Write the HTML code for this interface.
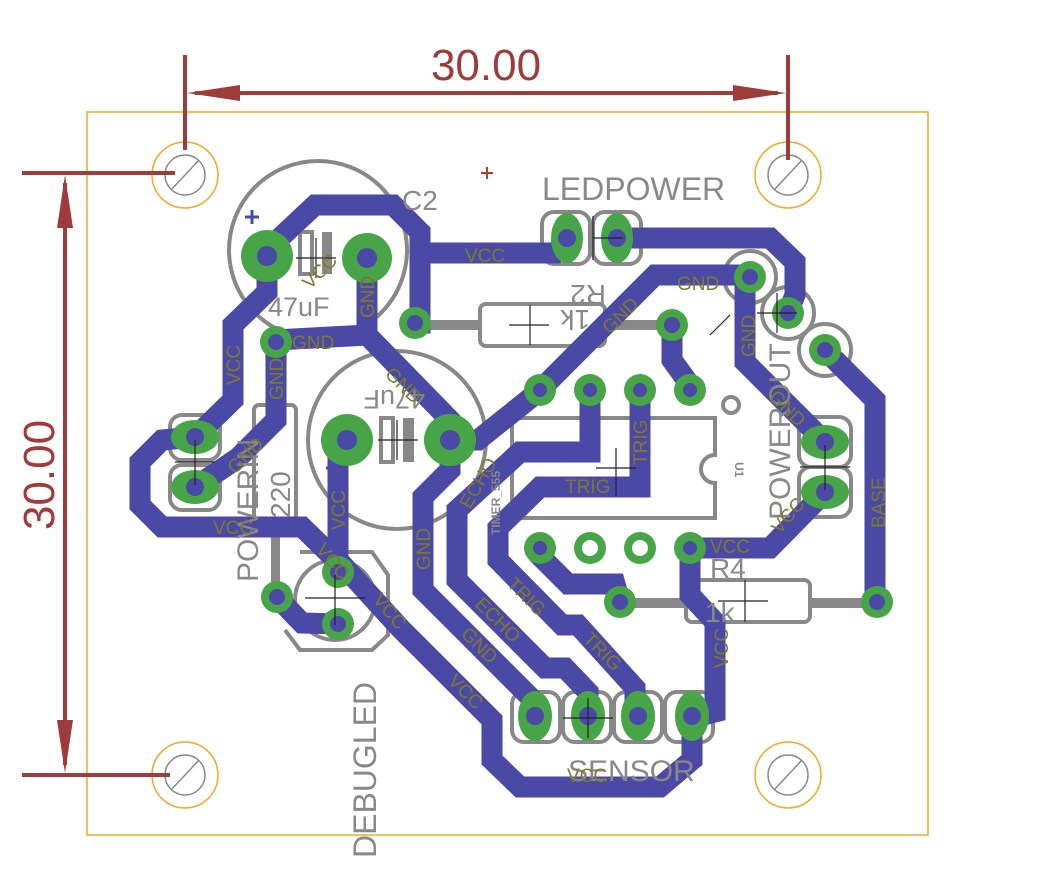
<!DOCTYPE html>
<html><head><meta charset="utf-8"><style>
html,body{margin:0;padding:0;background:#fff;}
svg{display:block;}
.t{fill:none;stroke:#4a4aa6;stroke-width:21;stroke-linejoin:miter;stroke-linecap:square;}
.g{fill:#888;font-family:"Liberation Sans",sans-serif;}
.l{fill:#7d7a2c;font-family:"Liberation Sans",sans-serif;font-size:19px;}
.o{fill:none;stroke:#888;stroke-width:4;}
.pad{fill:#47a447;}
.h{fill:#4a4aa6;}
</style></head><body>
<svg width="1048" height="876" viewBox="0 0 1048 876" xmlns="http://www.w3.org/2000/svg">
<rect x="87" y="112" width="841" height="723" fill="none" stroke="#f5a623" stroke-width="1.5"/>
<g fill="none">
<circle cx="185" cy="175" r="33" stroke="#f5a623" stroke-width="1.5"/><circle cx="185" cy="175" r="20" stroke="#888" stroke-width="1.5"/><line x1="171" y1="190" x2="199" y2="160" stroke="#888" stroke-width="1.5"/>
<circle cx="788" cy="175" r="33" stroke="#f5a623" stroke-width="1.5"/><circle cx="788" cy="175" r="20" stroke="#888" stroke-width="1.5"/><line x1="774" y1="190" x2="802" y2="160" stroke="#888" stroke-width="1.5"/>
<circle cx="185" cy="775" r="33" stroke="#f5a623" stroke-width="1.5"/><circle cx="185" cy="775" r="20" stroke="#888" stroke-width="1.5"/><line x1="171" y1="790" x2="199" y2="760" stroke="#888" stroke-width="1.5"/>
<circle cx="788" cy="775" r="33" stroke="#f5a623" stroke-width="1.5"/><circle cx="788" cy="775" r="20" stroke="#888" stroke-width="1.5"/><line x1="774" y1="790" x2="802" y2="760" stroke="#888" stroke-width="1.5"/>
</g>
<g stroke="#9e3b3b" stroke-width="4" fill="#9e3b3b">
<line x1="185" y1="55" x2="185" y2="150"/><line x1="788" y1="55" x2="788" y2="160"/>
<line x1="195" y1="93" x2="778" y2="93"/>
<polygon points="187,93 240,85 240,101" stroke="none"/><polygon points="786,93 733,85 733,101" stroke="none"/>
<line x1="22" y1="173" x2="175" y2="173"/><line x1="22" y1="775" x2="170" y2="775"/>
<line x1="65" y1="183" x2="65" y2="765"/>
<polygon points="65,175 57,228 73,228" stroke="none"/><polygon points="65,773 57,720 73,720" stroke="none"/>
</g>
<text x="486" y="80" fill="#9e3b3b" font-family="Liberation Sans,sans-serif" font-size="44" text-anchor="middle">30.00</text>
<text transform="translate(54,475) rotate(-90)" fill="#9e3b3b" font-family="Liberation Sans,sans-serif" font-size="44" text-anchor="middle">30.00</text>
<g stroke="#c0392b" stroke-width="2"><line x1="481" y1="173" x2="493" y2="173"/><line x1="487" y1="167" x2="487" y2="179"/></g>

<circle cx="318" cy="250" r="89" class="o"/>
<circle cx="397" cy="440" r="89" class="o"/>
<rect x="300" y="232" width="12" height="42" class="o" stroke-width="3"/><rect x="322" y="232" width="10" height="42" fill="#888"/>
<rect x="381" y="418" width="12" height="44" class="o" stroke-width="3"/><rect x="403" y="418" width="11" height="44" fill="#888"/>
<path d="M245 217h14M252 210v14M326 468h14M333 461v14" stroke="#4a4aa6" stroke-width="3"/>
<rect x="420" y="320" width="60" height="10" fill="#888"/><rect x="605" y="320" width="65" height="10" fill="#888"/>
<rect x="480" y="304" width="125" height="42" rx="6" class="o"/>
<rect x="620" y="598" width="65" height="10" fill="#888"/><rect x="810" y="598" width="65" height="10" fill="#888"/>
<rect x="686" y="580" width="124" height="42" rx="6" class="o"/>
<rect x="254" y="405" width="42" height="115" rx="5" class="o"/>
<rect x="271" y="520" width="9" height="75" fill="#888"/>
<path d="M512 418H715V455a14 14 0 0 0 0 28V518H512Z" class="o"/>
<circle cx="731" cy="405" r="8" class="o"/>
<path d="M300 552 L372 552 L388 575 L388 635 L372 650 L300 650 L285 630" class="o"/>
<circle cx="335" cy="600" r="40" class="o" stroke-width="2.5"/>
<g class="o" stroke-width="3">
<rect x="170" y="415" width="50" height="45" rx="12"/><rect x="170" y="465" width="50" height="45" rx="12"/>
<rect x="542" y="212" width="48" height="52" rx="12"/><rect x="593" y="212" width="48" height="52" rx="12"/>
<circle cx="750" cy="277" r="26"/><circle cx="788" cy="313" r="26"/><circle cx="825" cy="350" r="26"/>
<rect x="799" y="417" width="52" height="50" rx="12"/><rect x="799" y="467" width="52" height="50" rx="12"/>
<rect x="512" y="692" width="48" height="50" rx="12"/><rect x="563" y="692" width="48" height="50" rx="12"/><rect x="614" y="692" width="48" height="50" rx="12"/><rect x="665" y="692" width="48" height="50" rx="12"/>
</g>

<g class="t">
<path d="M267 256 L267 250 L315 205 L393 205 L420 232 L420 323"/>
<path d="M420 253 L555 253 L567 240"/>
<path d="M267 256 L267 292 L233 325 L233 400 L195 437"/>
<path d="M195 437 L162 440 L140 462 L140 505 L162 527 L302 527 L338 562"/>
<path d="M347 440 L338 450 L338 560 L400 628 L492 720 L492 760 L520 787 L660 787 L692 760 L692 718"/>
<path d="M692 718 L715 712 L715 622 L690 595 L690 548 L770 548 L825 492"/>
<path d="M367 258 L367 335 L276 340 L276 420 L238 458 L195 487"/>
<path d="M367 335 L450 420 L450 440"/>
<path d="M450 440 L478 440 L538 392 L655 275 L750 275"/>
<path d="M745 285 L745 362 L825 442"/>
<path d="M450 440 L450 470 L423 497 L423 590 L535 702 L535 716"/>
<path d="M590 390 L590 452 L520 452 L457 510 L457 580 L545 668 L565 668 L588 692 L588 716"/>
<path d="M640 390 L640 487 L540 487 L498 528 L498 560 L562 625 L578 625 L635 688 L635 716"/>
<path d="M540 548 L540 556 L568 584 L615 584 L620 602"/>
<path d="M672 325 L672 360 L690 385"/>
<path d="M617 238 L770 238 L795 262 L795 295 L788 312"/>
<path d="M825 350 L875 400 L875 602"/>
<path d="M277 597 L302 623 L338 624"/>
</g>

<g>
<circle cx="267" cy="256" r="26" class="pad"/><circle cx="367" cy="258" r="25" class="pad"/>
<circle cx="347" cy="440" r="26" class="pad"/><circle cx="450" cy="440" r="26" class="pad"/>
<circle cx="276" cy="342" r="16" class="pad"/><circle cx="415" cy="323" r="16" class="pad"/><circle cx="672" cy="325" r="16" class="pad"/>
<ellipse cx="195" cy="437" rx="24" ry="17" class="pad"/><ellipse cx="195" cy="487" rx="24" ry="17" class="pad"/>
<ellipse cx="567" cy="238" rx="16" ry="25" class="pad"/><ellipse cx="617" cy="238" rx="16" ry="25" class="pad"/>
<circle cx="750" cy="277" r="16" class="pad"/><circle cx="788" cy="313" r="16" class="pad"/><circle cx="825" cy="350" r="16" class="pad"/>
<ellipse cx="825" cy="442" rx="24" ry="17" class="pad"/><ellipse cx="825" cy="492" rx="24" ry="17" class="pad"/>
<ellipse cx="535" cy="716" rx="17" ry="25" class="pad"/><ellipse cx="588" cy="716" rx="17" ry="25" class="pad"/><ellipse cx="638" cy="716" rx="17" ry="25" class="pad"/><ellipse cx="692" cy="716" rx="17" ry="25" class="pad"/>
<circle cx="540" cy="390" r="16" class="pad"/><circle cx="590" cy="390" r="16" class="pad"/><circle cx="640" cy="390" r="16" class="pad"/><circle cx="690" cy="390" r="16" class="pad"/>
<circle cx="540" cy="548" r="16" class="pad"/><circle cx="590" cy="548" r="16" class="pad"/><circle cx="640" cy="548" r="16" class="pad"/><circle cx="690" cy="548" r="16" class="pad"/>
<circle cx="620" cy="602" r="16" class="pad"/><circle cx="877" cy="602" r="16" class="pad"/>
<circle cx="277" cy="597" r="16" class="pad"/><circle cx="338" cy="572" r="16" class="pad"/><circle cx="338" cy="624" r="16" class="pad"/>
</g>
<g fill="#fff"><circle cx="590" cy="548" r="8"/><circle cx="640" cy="548" r="8"/></g>
<g class="h">
<circle cx="267" cy="256" r="10"/><circle cx="367" cy="258" r="10"/><circle cx="347" cy="440" r="10"/><circle cx="450" cy="440" r="10"/>
<circle cx="276" cy="342" r="8"/><circle cx="415" cy="323" r="8"/><circle cx="672" cy="325" r="8"/>
<circle cx="195" cy="437" r="9"/><circle cx="195" cy="487" r="9"/><circle cx="567" cy="238" r="9"/><circle cx="617" cy="238" r="9"/>
<circle cx="750" cy="277" r="8"/><circle cx="788" cy="313" r="8"/><circle cx="825" cy="350" r="8"/><circle cx="825" cy="442" r="9"/><circle cx="825" cy="492" r="9"/>
<circle cx="535" cy="716" r="9"/><circle cx="588" cy="716" r="9"/><circle cx="638" cy="716" r="9"/><circle cx="692" cy="716" r="9"/>
<circle cx="540" cy="390" r="7"/><circle cx="590" cy="390" r="7"/><circle cx="640" cy="390" r="7"/><circle cx="690" cy="390" r="7"/><circle cx="540" cy="548" r="7"/><circle cx="690" cy="548" r="7"/>
<circle cx="620" cy="602" r="8"/><circle cx="877" cy="602" r="8"/><circle cx="277" cy="597" r="8"/><circle cx="338" cy="572" r="8"/><circle cx="338" cy="624" r="8"/>
</g>
<g stroke="#222" stroke-width="1.2">
<path d="M296 258h40M316 238v40M378 440h40M397 420v40M509 325h40M530 305v40M593 238h30M593 216v44M596 468h40M616 448v48M718 601h50M745 580v42M175 462h40M195 440v45M800 467h50M825 445v45M563 718h50M588 698v40M305 598h60M335 575v50M757 313h40M777 293v40M710 335l20-20"/>
</g>

<g class="g">
<text x="402" y="210" font-size="28">C2</text>
<text x="542" y="200" font-size="32">LEDPOWER</text>
<text x="268" y="316" font-size="27">47uF</text>
<text transform="translate(425,390) rotate(180)" font-size="27">47uF</text>
<text transform="translate(606,285) rotate(180)" font-size="28">R2</text>
<text transform="translate(590,310) rotate(180)" font-size="28">1k</text>
<text x="710" y="578" font-size="28">R4</text>
<text x="705" y="622" font-size="28">1k</text>
<text x="568" y="781" font-size="30">SENSOR</text>
<text transform="translate(376,858) rotate(-90)" font-size="32">DEBUGLED</text>
<text transform="translate(258,582) rotate(-90)" font-size="30">POWERIN</text>
<text transform="translate(290,518) rotate(-90)" font-size="28">220</text>
<text transform="translate(790,520) rotate(-90)" font-size="30">POWEROUT</text>
<text transform="translate(735,462) rotate(90)" font-size="12" font-weight="bold">U1</text>
<text transform="translate(500,535) rotate(-90)" font-size="12" font-weight="bold">TIMER_555</text>
</g>
<g class="l">
<text x="465" y="262">VCC</text>
<text x="292" y="349">GND</text>
<text x="677" y="290">GND</text>
<text transform="translate(310,290) rotate(-45)">VCC</text>
<text transform="translate(374,318) rotate(-90)">GND</text>
<text transform="translate(240,385) rotate(-90)">VCC</text>
<text transform="translate(283,400) rotate(-90)">GND</text>
<text transform="translate(235,475) rotate(-45)">GND</text>
<text x="213" y="534">VCC</text>
<text transform="translate(384,375) rotate(45)">GND</text>
<text transform="translate(610,335) rotate(-45)">GND</text>
<text transform="translate(755,357) rotate(-90)">GND</text>
<text transform="translate(768,398) rotate(45)">GND</text>
<text transform="translate(345,530) rotate(-90)">VCC</text>
<text transform="translate(430,570) rotate(-90)">GND</text>
<text transform="translate(470,510) rotate(-60)">ECHO</text>
<text transform="translate(647,465) rotate(-90)">TRIG</text>
<text x="565" y="493">TRIG</text>
<text x="710" y="553">VCC</text>
<text transform="translate(780,535) rotate(-50)">VCC</text>
<text transform="translate(885,528) rotate(-90)">BASE</text>
<text transform="translate(315,550) rotate(50)">VCC</text>
<text transform="translate(372,600) rotate(50)">VCC</text>
<text transform="translate(506,585) rotate(45)">TRIG</text>
<text transform="translate(474,605) rotate(45)">ECHO</text>
<text transform="translate(460,635) rotate(45)">GND</text>
<text transform="translate(447,682) rotate(45)">VCC</text>
<text transform="translate(582,640) rotate(45)">TRIG</text>
<text transform="translate(728,668) rotate(-90)">VCC</text>
<text x="567" y="782">VCC</text>
</g>
</svg>
</body></html>
